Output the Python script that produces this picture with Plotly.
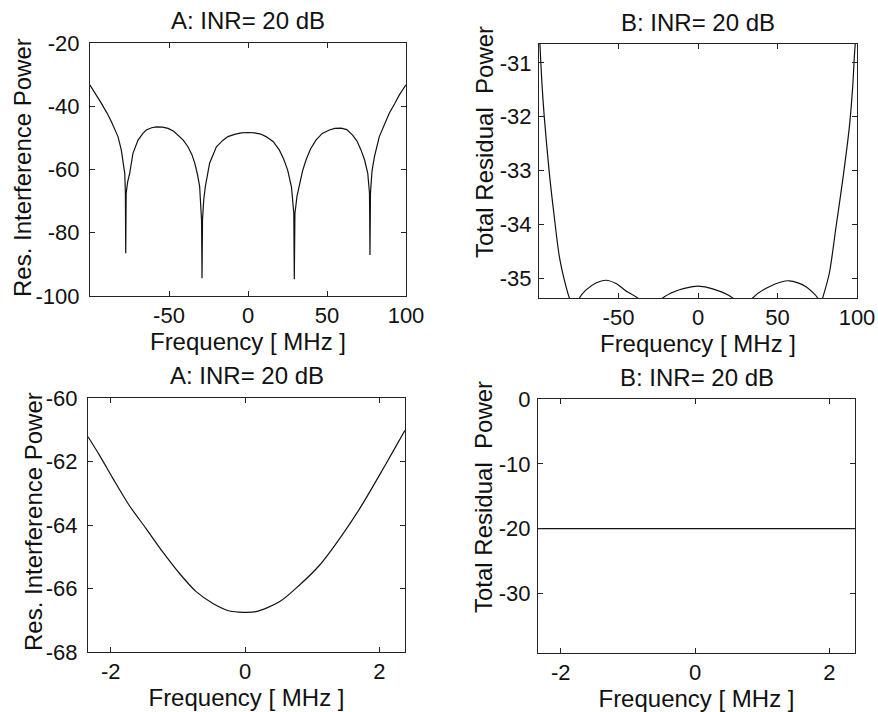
import plotly.graph_objects as go

# ---- Data ----
# A (top-left): residual interference power vs frequency, -100..100 MHz
a_freq = [-100, -95.8, -92.8, -89.4, -86.5, -82.3, -80.2, -78.0, -77.6, -77.4, -77.1, -76.2, -74.9,
          -72.8, -69.6, -66.5, -64.4, -61.0, -58.0, -54.0, -50.6, -47.0, -44.3, -41.0, -38.0, -35.5,
          -33.7, -32.0, -30.6, -29.4, -29.1, -28.8, -28.0, -27.0, -24.3, -22.0, -20.0, -16.0, -12.7,
          -8.0, -4.2, 0.0, 4.2, 8.0, 11.4, 16.0, 19.8, 22.5, 25.1, 27.5, 29.0, 29.3, 29.7, 31.0,
          32.5, 34.5, 36.7, 39.5, 43.0, 47.0, 51.5, 55.0, 58.9, 62.5, 66.2, 69.0, 71.5, 73.8, 75.8,
          76.9, 77.2, 77.5, 78.5, 80.0, 83.1, 86.5, 89.4, 92.8, 95.8, 100]
a_power = [-33.3, -36.5, -39.1, -42.0, -44.8, -49.6, -53.8, -61.2, -67.3, -86.5, -67.5, -64.0, -61.2,
           -54.9, -50.7, -48.6, -47.5, -46.8, -46.5, -46.6, -47.0, -47.9, -49.1, -50.7, -52.8, -55.3,
           -58.0, -61.5, -65.4, -76.0, -94.4, -76.0, -69.5, -65.4, -58.0, -55.2, -52.8, -50.8, -49.6,
           -48.8, -48.4, -48.3, -48.4, -48.8, -49.6, -51.2, -53.8, -56.6, -60.2, -65.5, -73.9, -94.7,
           -73.9, -68.5, -65.4, -60.5, -57.0, -53.6, -50.7, -48.6, -47.5, -47.0, -46.9, -47.4, -49.1,
           -51.0, -53.8, -57.0, -61.2, -67.5, -87.0, -67.5, -60.5, -56.0, -49.6, -45.3, -42.2, -39.2,
           -36.4, -33.2]

# B (top-right): total residual power vs frequency, -100..100 MHz
b_freq = [-100, -99.4, -98.1, -96.7, -93.5, -90.4, -87.2, -83.0, -80.9, -77.5, -74.6, -70.4, -64.2,
          -57.9, -51.6, -45.3, -37.9, -30.0, -22.2, -13.8, -3.3, 0.0, 9.2, 21.8, 28.0, 34.4, 44.8,
          57.4, 67.9, 75.3, 77.0, 78.4, 82.6, 86.8, 91.0, 95.2, 97.3, 98.6, 100]
b_power = [-30.3, -30.67, -31.41, -32.0, -33.05, -33.86, -34.6, -35.16, -35.37, -35.6, -35.37, -35.22,
           -35.09, -35.04, -35.1, -35.24, -35.37, -35.7, -35.37, -35.24, -35.16, -35.15, -35.2, -35.37,
           -35.7, -35.37, -35.16, -35.05, -35.16, -35.37, -35.5, -35.37, -34.91, -34.05, -33.18,
           -32.19, -31.44, -30.76, -30.3]

# A zoom (bottom-left): -2.34..2.38 MHz
c_freq = [-2.34, -2.17, -1.97, -1.73, -1.48, -1.23, -0.98, -0.73, -0.48, -0.23, -0.03, 0.16, 0.51,
          0.81, 1.11, 1.41, 1.71, 2.0, 2.2, 2.38]
c_power = [-61.22, -61.8, -62.53, -63.37, -64.1, -64.84, -65.52, -66.1, -66.47, -66.71, -66.75,
           -66.73, -66.42, -65.89, -65.26, -64.42, -63.47, -62.43, -61.69, -61.02]

# B zoom (bottom-right): flat at -20
d_freq = [-2.34, 2.38]
d_power = [-20, -20]

titles = ["A: INR= 20 dB", "B: INR= 20 dB", "A: INR= 20 dB", "B: INR= 20 dB"]
x_title = "Frequency [ MHz ]"
y_titles = ["Res. Interference Power", "Total Residual\u00a0 Power",
            "Res. Interference Power", "Total Residual\u00a0 Power"]

x_ticks_wide = [-50, 0, 50, 100]
x_ticks_narrow = [-2, 0, 2]
y_ticks_a = [-100, -80, -60, -40, -20]
y_ticks_b = [-35, -34, -33, -32, -31]
y_ticks_c = [-68, -66, -64, -62, -60]
y_ticks_d = [-30, -20, -10, 0]

W, H = 878, 712
FONT = "Liberation Sans, Arial, Helvetica, sans-serif"
FS_TICK = 22
FS_TITLE = 24
INK = "#111111"

# plot boxes in pixels: (left, top, right, bottom)
boxes = [(90, 43, 406, 296), (539, 44, 857, 298), (88, 398, 405, 652), (538, 399, 855, 653)]
# y-title centres in pixels (x, y)
ytitle_pos = [(22, 168), (484, 142), (33, 522), (484, 497)]

def dom(b):
    l, t, r, bt = b
    return [l / W, r / W], [1 - bt / H, 1 - t / H]

def lab(v):
    return str(v)

fig = go.Figure()
series = [(a_freq, a_power), (b_freq, b_power), (c_freq, c_power), (d_freq, d_power)]
shapes = ["linear", "spline", "spline", "linear"]
for i, (xs, ys) in enumerate(series):
    sfx = "" if i == 0 else str(i + 1)
    fig.add_trace(go.Scatter(x=xs, y=ys, mode="lines",
                             line=dict(color=INK, width=1.2, shape=shapes[i], smoothing=0.8),
                             xaxis="x" + sfx, yaxis="y" + sfx, showlegend=False,
                             hoverinfo="skip"))

x_ranges = [[-100, 100], [-100, 100], [-2.34, 2.38], [-2.34, 2.38]]
y_ranges = [[-100, -20], [-35.37, -30.65], [-68, -60], [-39.2, 0]]
x_tvs = [x_ticks_wide, x_ticks_wide, x_ticks_narrow, x_ticks_narrow]
y_tvs = [y_ticks_a, y_ticks_b, y_ticks_c, y_ticks_d]
y_stand = [5, 2, 5, 2]

layout = dict(width=W, height=H, margin=dict(l=0, r=0, t=0, b=0, autoexpand=False),
              paper_bgcolor="white", plot_bgcolor="white", template="none",
              font=dict(family=FONT, size=FS_TICK, color=INK), annotations=[])

axis_common = dict(showline=True, linecolor="#222222", linewidth=1, mirror="allticks",
                   ticks="inside", ticklen=5, tickcolor="#222222", showgrid=False,
                   zeroline=False, automargin=False,
                   tickfont=dict(family=FONT, size=FS_TICK, color=INK))

for i in range(4):
    sfx = "" if i == 0 else str(i + 1)
    xd, yd = dom(boxes[i])
    layout["xaxis" + sfx] = dict(axis_common, domain=xd, range=x_ranges[i], anchor="y" + sfx,
                                 tickvals=x_tvs[i], ticktext=[lab(v) for v in x_tvs[i]],
                                 ticklabelstandoff=0,
                                 title=dict(text=x_title, standoff=0,
                                            font=dict(family=FONT, size=FS_TITLE, color=INK)))
    layout["yaxis" + sfx] = dict(axis_common, domain=yd, range=y_ranges[i], anchor="x" + sfx,
                                 tickvals=y_tvs[i], ticktext=[lab(v) for v in y_tvs[i]],
                                 ticklabelstandoff=y_stand[i])
    l, t, r, bt = boxes[i]
    layout["annotations"].append(dict(text=titles[i], xref="paper", yref="paper",
                                      x=(l + r) / 2 / W, y=1 - (t - 22) / H,
                                      xanchor="center", yanchor="middle", showarrow=False,
                                      font=dict(family=FONT, size=FS_TITLE, color=INK)))
    tx, ty = ytitle_pos[i]
    layout["annotations"].append(dict(text=y_titles[i], xref="paper", yref="paper",
                                      x=tx / W, y=1 - ty / H, textangle=-90,
                                      xanchor="center", yanchor="middle", showarrow=False,
                                      font=dict(family=FONT, size=FS_TITLE, color=INK)))

fig.update_layout(**layout)
fig.write_html("out.html")
